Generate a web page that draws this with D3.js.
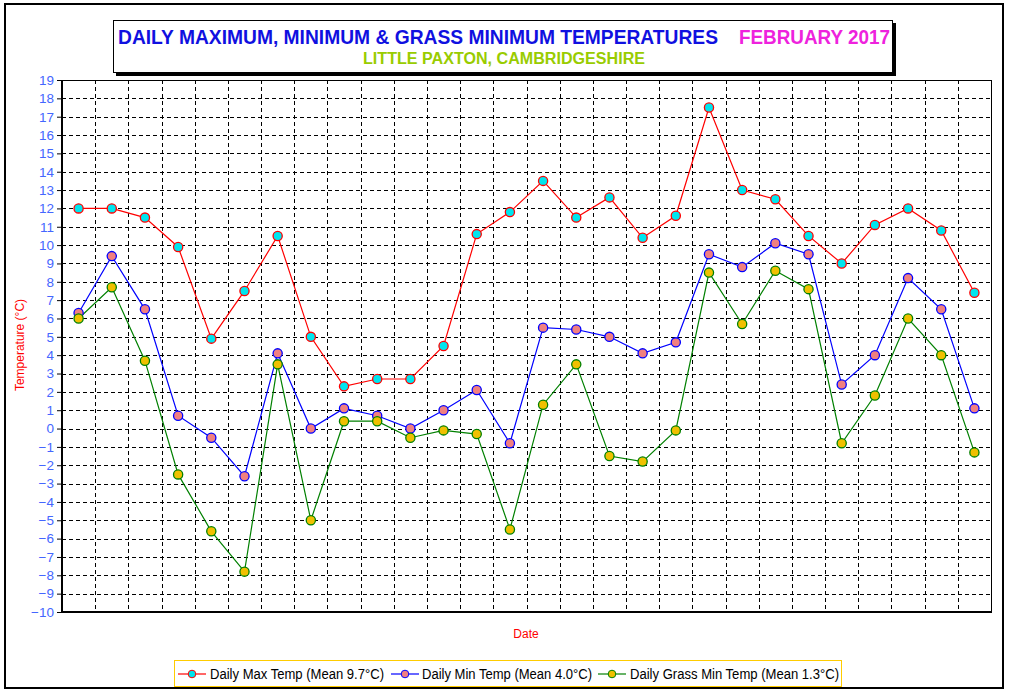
<!DOCTYPE html>
<html><head><meta charset="utf-8">
<script src="https://cdn.jsdelivr.net/npm/d3@7"></script>
<style>body{margin:0;background:#fff}svg{display:block;font-family:Arial,"Liberation Sans",sans-serif}</style>
</head><body><svg id="c" width="1010" height="694"></svg>
<script>
const days = d3.range(1, 29);
const maxTemp = [12.0,12.0,11.5,9.9,4.9,7.5,10.5,5.0,2.3,2.7,2.7,4.5,10.6,11.8,13.5,11.5,12.6,10.4,11.6,17.5,13.0,12.5,10.5,9.0,11.1,12.0,10.8,7.4];
const minTemp = [6.3,9.4,6.5,0.7,-0.5,-2.6,4.1,0.0,1.1,0.7,0.0,1.0,2.1,-0.8,5.5,5.4,5.0,4.1,4.7,9.5,8.8,10.1,9.5,2.4,4.0,8.2,6.5,1.1];
const grassMin = [6.0,7.7,3.7,-2.5,-5.6,-7.8,3.5,-5.0,0.4,0.4,-0.5,-0.1,-0.3,-5.5,1.3,3.5,-1.5,-1.8,-0.1,8.5,5.7,8.6,7.6,-0.8,1.8,6.0,4.0,-1.3];
const yTicks = d3.range(-10, 20);
const seriesNames = ["Daily Max Temp (Mean 9.7°C)","Daily Min Temp (Mean 4.0°C)","Daily Grass Min Temp (Mean 1.3°C)"];

const series = [
  {name: seriesNames[0], values: maxTemp, line: "#ff0000", fill: "#00e5ee", stroke: "#ff0000"},
  {name: seriesNames[1], values: minTemp, line: "#0000ff", fill: "#f08080", stroke: "#0000ff"},
  {name: seriesNames[2], values: grassMin, line: "#008000", fill: "#f0c000", stroke: "#008000"}
];

const svg = d3.select("#c");
const L = 62, R = 991, T = 80, B = 612;

// outer frame
svg.append("rect").attr("x",5).attr("y",4).attr("width",998).attr("height",684)
  .attr("fill","none").attr("stroke","#000").attr("stroke-width",2);

// title box with shadow
svg.append("rect").attr("x",116).attr("y",23).attr("width",780).attr("height",53).attr("fill","#000");
svg.append("rect").attr("x",113.5).attr("y",20.5).attr("width",779).attr("height",52)
  .attr("fill","#fff").attr("stroke","#000").attr("stroke-width",1);
svg.append("text").attr("x",118).attr("y",44).attr("font-size",20).attr("font-weight","bold")
  .attr("fill","#1010e0").attr("textLength",600).attr("lengthAdjust","spacingAndGlyphs")
  .text("DAILY MAXIMUM, MINIMUM & GRASS MINIMUM TEMPERATURES");
svg.append("text").attr("x",739).attr("y",44).attr("font-size",20).attr("font-weight","bold")
  .attr("fill","#ee22dd").attr("textLength",151).attr("lengthAdjust","spacingAndGlyphs").text("FEBRUARY 2017");
svg.append("text").attr("x",363).attr("y",64).attr("font-size",16).attr("font-weight","bold")
  .attr("fill","#99cc00").attr("textLength",282).attr("lengthAdjust","spacingAndGlyphs").text("LITTLE PAXTON, CAMBRIDGESHIRE");

const x = d3.scaleBand().domain(days).range([L, R]);
const y = d3.scaleLinear().domain([-10, 19]).range([B, T]);

// grid
const g = svg.append("g");
g.selectAll(".hg").data(yTicks.filter(v => v > -10 && v < 19)).join("line")
  .attr("x1",L).attr("x2",R).attr("y1",d=>Math.round(y(d))+0.5).attr("y2",d=>Math.round(y(d))+0.5)
  .attr("stroke","#000").attr("stroke-dasharray","4,3");
g.selectAll(".vg").data(days.slice(1)).join("line")
  .attr("x1",d=>Math.round(x(d))+0.5).attr("x2",d=>Math.round(x(d))+0.5).attr("y1",T).attr("y2",B)
  .attr("stroke","#000").attr("stroke-dasharray","4,3");

// frame
svg.append("rect").attr("x",L+0.5).attr("y",T+0.5).attr("width",R-L).attr("height",B-T)
  .attr("fill","none").attr("stroke","#000").attr("stroke-width",1);
svg.append("line").attr("x1",L).attr("x2",L).attr("y1",T).attr("y2",B+1).attr("stroke","#000").attr("stroke-width",2);
svg.append("line").attr("x1",L).attr("x2",R+1).attr("y1",B).attr("y2",B).attr("stroke","#000").attr("stroke-width",2);

// y axis
const ax = svg.append("g").attr("transform",`translate(${L},0)`)
  .call(d3.axisLeft(y).tickValues(yTicks).tickFormat(d3.format("d")).tickSize(5).tickPadding(3));
ax.select(".domain").remove();
ax.selectAll("line").attr("stroke","#000");
ax.selectAll("text").attr("fill","#4466ff").attr("font-size",13.5).attr("font-family","Arial,'Liberation Sans',sans-serif");

// axis titles
svg.append("text").attr("transform","translate(24,345) rotate(-90)").attr("text-anchor","middle")
  .attr("font-size",12).attr("fill","#ff0000").text("Temperature (°C)");
svg.append("text").attr("x",526).attr("y",638).attr("text-anchor","middle")
  .attr("font-size",12).attr("fill","#ff0000").text("Date");

// series
const cx = d => x(d) + x.bandwidth()/2;
series.forEach(s => {
  const line = d3.line().x((v,i)=>cx(days[i])).y(v=>y(v));
  svg.append("path").attr("d", line(s.values)).attr("fill","none").attr("stroke",s.line).attr("stroke-width",1.2);
});
series.forEach(s => {
  svg.append("g").selectAll("circle").data(s.values).join("circle")
    .attr("cx",(v,i)=>cx(days[i])).attr("cy",v=>y(v)).attr("r",4.6)
    .attr("fill",s.fill).attr("stroke",s.stroke).attr("stroke-width",1.3);
});

// legend
const lg = svg.append("g");
lg.append("rect").attr("x",174.5).attr("y",660.5).attr("width",667).attr("height",26)
  .attr("fill","#fff").attr("stroke","#ffcc00").attr("stroke-width",1);
const positions = [{x0:178, tx:210, w:174},{x0:391, tx:422, w:170},{x0:598, tx:630, w:209}];
series.forEach((s,i) => {
  const p = positions[i];
  lg.append("line").attr("x1",p.x0).attr("x2",p.x0+28).attr("y1",674).attr("y2",674).attr("stroke",s.line).attr("stroke-width",1.2);
  lg.append("circle").attr("cx",p.x0+14).attr("cy",674).attr("r",3.8).attr("fill",s.fill).attr("stroke",s.stroke).attr("stroke-width",1);
  lg.append("text").attr("x",p.tx).attr("y",679).attr("font-size",14).attr("fill","#000")
    .attr("textLength",p.w).attr("lengthAdjust","spacingAndGlyphs").text(s.name);
});
</script></body></html>
